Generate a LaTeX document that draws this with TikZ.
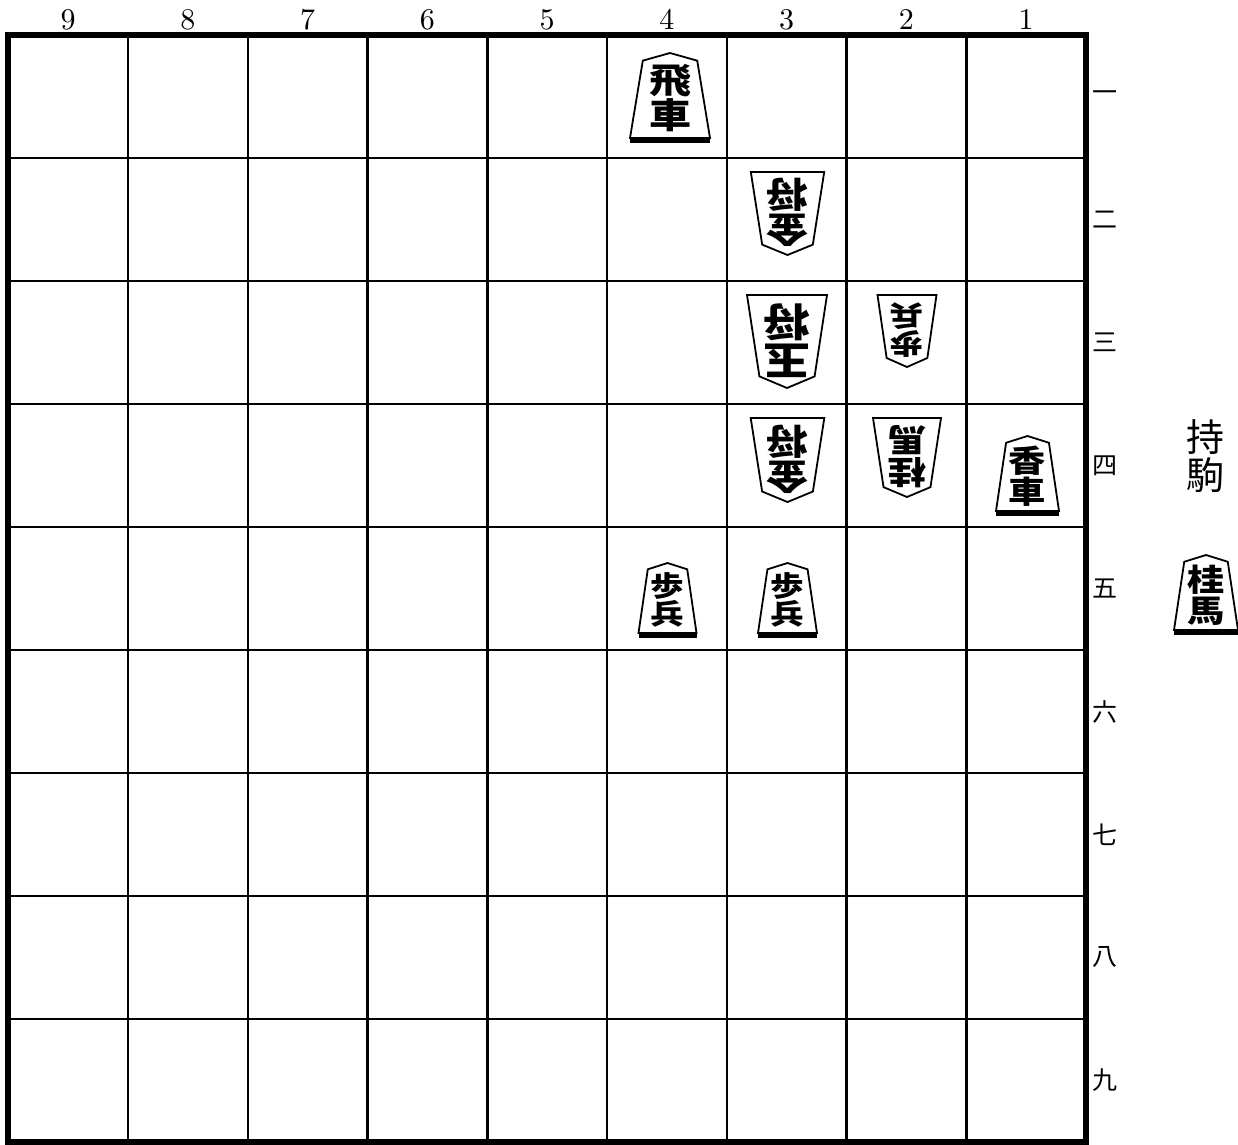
\documentclass[tikz,border=0pt]{standalone}
\usepackage{fontspec}
\newfontfamily\cjk{Noto Sans CJK JP}
\newfontfamily\lmten{lmroman10-regular.otf}
\tikzset{
  gridline/.style={line width=2.6pt,black},
  frameline/.style={line width=6pt,black},
  pieceline/.style={line width=1.8pt,black,fill=white,line join=miter},
  piecetext/.style={align=center,inner sep=0pt,xscale=1.2,transform shape},
  filelabel/.style={anchor=base,inner sep=0pt,font=\lmten\fontsize{30}{30}\selectfont},
  ranklabel/.style={anchor=center,inner sep=0pt,font=\cjk\fontsize{25}{25}\selectfont},
  handlabel/.style={align=center,inner sep=0pt,font=\cjk\fontsize{38}{38}\selectfont}
}
% sente piece: name, cx, bottom y, half width, height, font size, char1, char2
\newcommand\sentep[8]{%
  \begin{scope}[shift={(#2,#3)},x=#4pt,y=#5pt]
    \fill ([yshift=-4.5pt]-1,0) -- ([yshift=-4.5pt]1,0) -- (1,0) -- (-1,0) -- cycle;
    \draw[pieceline] (-1,0) -- (1,0) -- (0.68,0.91) -- (0,1) -- (-0.68,0.91) -- cycle;
    \node[piecetext,font=\cjk\bfseries\fontsize{#6}{#6}\selectfont] (#1) at (0,0.47) {#7\\#8};
  \end{scope}}
% gote piece: name, cx, top y, half width, height, font size, char1, char2
\newcommand\gotep[8]{%
  \begin{scope}[shift={(#2,#3)},x=#4pt,y=-#5pt]
    \draw[pieceline] (-1,0) -- (1,0) -- (0.69,0.875) -- (0,1) -- (-0.69,0.875) -- cycle;
    \node[piecetext,rotate=180,font=\cjk\bfseries\fontsize{#6}{#6}\selectfont] (#1) at (0,0.49) {#7\\#8};
  \end{scope}}
\begin{document}
\begin{tikzpicture}[x=1pt,y=-1pt]
\useasboundingbox (0,0) rectangle (1238,1144);
\fill[white] (0,0) rectangle (1238,1144);
% grid
\foreach \i in {1,...,8} {
  \draw[gridline] (8.3+\i*119.75,35) -- (8.3+\i*119.75,1142);
  \draw[gridline] (8.3,35+\i*123) -- (1086.05,35+\i*123);
}
\draw[frameline] (8.3,35) rectangle (1086.05,1142);
% file labels
\foreach \n [count=\c] in {9,8,7,6,5,4,3,2,1}
  \node[filelabel] (file\n) at (8.3+\c*119.75-59.875,29) {\n};
% rank labels
\foreach \k [count=\r] in {一,二,三,四,五,六,七,八,九}
  \node[ranklabel] (rank\r) at (1105,35+\r*123-61.5) {\k};
% pieces
\sentep{p41}{670}{138}{40}{85}{35}{飛}{車}
\gotep{p32}{787.5}{172}{36.7}{83}{35}{金}{将}
\gotep{p33}{787}{295}{40}{93}{39}{玉}{将}
\gotep{p23}{907}{295}{29.5}{72}{28}{歩}{兵}
\gotep{p34}{787.5}{418}{36.8}{84}{35}{金}{将}
\gotep{p24}{907}{418}{34}{79}{32}{桂}{馬}
\sentep{p14}{1027.5}{511}{31.5}{75}{31}{香}{車}
\sentep{p45}{667.5}{633}{29}{70}{28}{歩}{兵}
\sentep{p35}{787.5}{633}{29.5}{70}{28}{歩}{兵}
% pieces in hand
\node[handlabel] (hand) at (1205,456) {持\\駒};
\sentep{h1}{1206}{630}{32}{75}{31}{桂}{馬}
\end{tikzpicture}
\end{document}
